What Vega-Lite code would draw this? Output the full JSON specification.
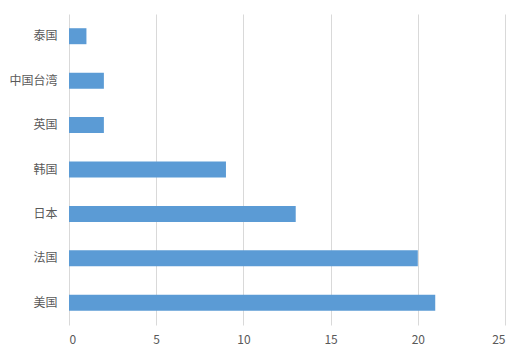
{
  "$schema": "https://vega.github.io/schema/vega-lite/v6.json",
  "autosize": "none",
  "width": 436,
  "height": 311,
  "padding": {"left": 69, "top": 14, "right": 21, "bottom": 32},
  "background": "#ffffff",
  "data": {"values": [
    {"country": "泰国", "value": 1},
    {"country": "中国台湾", "value": 2},
    {"country": "英国", "value": 2},
    {"country": "韩国", "value": 9},
    {"country": "日本", "value": 13},
    {"country": "法国", "value": 20},
    {"country": "美国", "value": 21}
  ]},
  "mark": {"type": "bar", "color": "#5B9BD5"},
  "encoding": {
    "y": {
      "field": "country", "type": "nominal", "sort": null,
      "scale": {"paddingInner": 0.64, "paddingOuter": 0.32},
      "axis": {"title": null, "domain": false, "ticks": false, "grid": false, "labelPadding": 12, "labelFont": "Noto Sans CJK SC", "labelFontSize": 12, "labelColor": "#595959"}
    },
    "x": {
      "field": "value", "type": "quantitative",
      "scale": {"domain": [0, 25], "nice": false},
      "axis": {"title": null, "values": [0, 5, 10, 15, 20, 25], "domain": false, "ticks": false, "grid": true, "gridColor": "#d9d9d9", "gridWidth": 1, "labelPadding": 9, "labelFont": "Noto Sans CJK SC", "labelFontSize": 12, "labelColor": "#595959"}
    }
  },
  "config": {"view": {"stroke": null}}
}
